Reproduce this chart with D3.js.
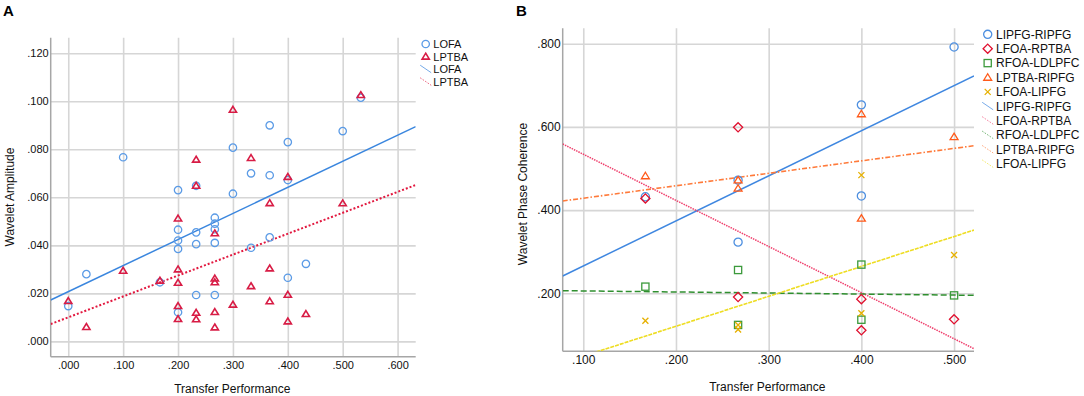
<!DOCTYPE html>
<html>
<head>
<meta charset="utf-8">
<script src="https://cdn.jsdelivr.net/npm/d3@7"></script>
<style>
  body { margin: 0; background: #fff; }
  svg { font-family: Arial, "Liberation Sans", sans-serif; }
</style>
</head>
<body>
<svg id="chart" width="1084" height="396"></svg>
<script>
// ---- panel A data ----
const xTicksA = [0, 0.1, 0.2, 0.3, 0.4, 0.5, 0.6];
const yTicksA = [0, 0.02, 0.04, 0.06, 0.08, 0.1, 0.12];

// [transfer performance, wavelet amplitude]
const lofaPts = [
  [0, 0.0147], [0.033, 0.028], [0.1, 0.0767], [0.167, 0.0246],
  [0.2, 0.063], [0.2, 0.0465], [0.2, 0.042], [0.2, 0.0385], [0.2, 0.0121],
  [0.233, 0.0648], [0.233, 0.0454], [0.233, 0.0405], [0.233, 0.0193],
  [0.267, 0.0515], [0.267, 0.049], [0.267, 0.0467], [0.267, 0.041], [0.267, 0.0193],
  [0.3, 0.0807], [0.3, 0.0615], [0.333, 0.070], [0.333, 0.039],
  [0.367, 0.090], [0.367, 0.0692], [0.367, 0.0433],
  [0.4, 0.083], [0.4, 0.0672], [0.4, 0.0265], [0.433, 0.0323],
  [0.5, 0.0876], [0.533, 0.1015]
];
const lptbaPts = [
  [0, 0.0168], [0.033, 0.006], [0.1, 0.0294], [0.167, 0.0253],
  [0.2, 0.0512], [0.2, 0.030], [0.2, 0.0244], [0.2, 0.0147], [0.2, 0.0093],
  [0.233, 0.0757], [0.233, 0.0648], [0.233, 0.0119], [0.233, 0.0092],
  [0.267, 0.045], [0.267, 0.0262], [0.267, 0.0246], [0.267, 0.0122], [0.267, 0.0058],
  [0.3, 0.0965], [0.3, 0.0153], [0.333, 0.0764], [0.333, 0.023],
  [0.367, 0.0576], [0.367, 0.0304], [0.367, 0.0167],
  [0.4, 0.0685], [0.4, 0.0194], [0.4, 0.0083], [0.433, 0.0114],
  [0.5, 0.0575], [0.533, 0.1026]
];
// fit lines: [intercept, slope]
const lofaFit = [0.0207, 0.1086];
const lptbaFit = [0.0100, 0.0871];

// ---- panel B data ----
const xTicksB = [0.1, 0.2, 0.3, 0.4, 0.5];
const yTicksB = [0.2, 0.4, 0.6, 0.8];

const lipfgRipfgPts = [[0.167, 0.432], [0.267, 0.472], [0.267, 0.323], [0.4, 0.653], [0.4, 0.434], [0.5, 0.792]];
const lfoaRptbaPts = [[0.167, 0.428], [0.267, 0.599], [0.267, 0.191], [0.4, 0.186], [0.4, 0.111], [0.5, 0.1375]];
const rfoaLdlpfcPts = [[0.167, 0.216], [0.267, 0.256], [0.267, 0.124], [0.4, 0.269], [0.4, 0.1365], [0.5, 0.195]];
const lptbaRipfgPts = [[0.167, 0.482], [0.267, 0.472], [0.267, 0.452], [0.4, 0.631], [0.4, 0.38], [0.5, 0.576]];
const lfoaLipfgPts = [[0.167, 0.134], [0.267, 0.124], [0.267, 0.113], [0.4, 0.484], [0.4, 0.152], [0.5, 0.292]];

const lipfgRipfgFit = [0.1573, 1.0836];
const lfoaRptbaFit = [0.6452, -1.109];
const rfoaLdlpfcFit = [0.2082, -0.025];
const lptbaRipfgFit = [0.3986, 0.2995];
const lfoaLipfgFit = [-0.023, 0.719];

const svg = d3.select("#chart");
const fmt = v => d3.format(".3f")(v).replace(/^0/, "");

// marker shapes, drawn around 0,0
function marker(g, shape, color, s) {
  if (shape === "circle") {
    g.append("circle").attr("r", 3.7 * s);
  } else if (shape === "triangle") {
    g.append("path").attr("d", `M0,${-3.4 * s}L${3.6 * s},${2.5 * s}L${-3.6 * s},${2.5 * s}Z`);
  } else if (shape === "diamond") {
    g.append("path").attr("d", "M0,-4.6L4.6,0L0,4.6L-4.6,0Z");
  } else if (shape === "square") {
    g.append("rect").attr("x", -3.6).attr("y", -3.6).attr("width", 7.2).attr("height", 7.2);
  } else if (shape === "x") {
    g.append("path").attr("d", "M-3,-3L3,3M-3,3L3,-3");
  }
  g.selectAll("*").attr("fill", "none").attr("stroke", color)
    .attr("stroke-width", shape === "triangle" && s < 1.05 ? 1.6 : 1.3);
}

function drawPanel(p) {
  const x = d3.scaleLinear().domain(p.xDomain).range([p.left, p.right]);
  const y = d3.scaleLinear().domain(p.yDomain).range([p.bottom, p.top]);
  const w = p.right - p.left, h = p.bottom - p.top;
  const g = svg.append("g");

  // grid + tick labels
  const yAxis = g.append("g").attr("transform", `translate(${p.left},0)`)
    .call(d3.axisLeft(y).tickValues(p.yTicks).tickSize(-w).tickPadding(2).tickFormat(fmt));
  const xAxis = g.append("g").attr("transform", `translate(0,${p.bottom})`)
    .call(d3.axisBottom(x).tickValues(p.xTicks).tickSize(-h).tickPadding(p.xPad).tickFormat(fmt));
  [xAxis, yAxis].forEach(a => {
    a.select(".domain").remove();
    a.selectAll(".tick line").attr("stroke", "#d6d6d6").attr("stroke-width", 1.6);
    a.selectAll(".tick text").attr("fill", "#111").style("font-size", p.fs + "px");
  });

  // axis lines (left and bottom only)
  g.append("line").attr("x1", p.left).attr("x2", p.left).attr("y1", p.top).attr("y2", p.bottom)
    .attr("stroke", "#a6a6a6").attr("stroke-width", 1.5);
  g.append("line").attr("x1", p.left).attr("x2", p.right).attr("y1", p.bottom).attr("y2", p.bottom)
    .attr("stroke", "#a6a6a6").attr("stroke-width", 1.5);

  // fit lines, clipped to the plot area
  const clipId = "clip" + p.id;
  svg.append("clipPath").attr("id", clipId).append("rect")
    .attr("x", p.left).attr("y", p.top).attr("width", w).attr("height", h);
  const lines = g.append("g").attr("clip-path", `url(#${clipId})`);
  const line = d3.line().x(d => x(d[0])).y(d => y(d[1]));
  p.series.forEach(s => {
    const ends = p.xDomain.map(v => [v, s.fit[0] + s.fit[1] * v]);
    lines.append("path").attr("d", line(ends)).attr("fill", "none")
      .attr("stroke", s.lineColor).attr("stroke-width", s.lw)
      .attr("stroke-dasharray", s.dash);
  });

  // points
  p.series.forEach(s => {
    g.append("g").selectAll("g").data(s.pts).join("g")
      .attr("transform", d => `translate(${x(d[0])},${y(d[1])})`)
      .each(function () { marker(d3.select(this), s.shape, s.color, p.ms); });
  });

  // axis titles
  g.append("text").attr("x", (p.left + p.right) / 2 + p.xTitleDx).attr("y", p.xTitleY)
    .attr("text-anchor", "middle").style("font-size", "12px").attr("fill", "#111").text(p.xTitle);
  g.append("text").attr("transform", `translate(${p.yTitleX},${p.yTitleCy}) rotate(-90)`)
    .attr("text-anchor", "middle").style("font-size", "12px").attr("fill", "#111").text(p.yTitle);

  // panel letter
  g.append("text").attr("x", p.letterX).attr("y", 16).style("font-size", "15px")
    .style("font-weight", "bold").text(p.letter);

  // legend: markers first, then fit lines
  const leg = g.append("g");
  const rows = p.series.map(s => ({ s, kind: "pt" })).concat(p.series.map(s => ({ s, kind: "ln" })));
  rows.forEach((r, i) => {
    const cy = p.legY + i * p.legStep;
    if (r.kind === "pt") {
      marker(leg.append("g").attr("transform", `translate(${p.legX},${cy})`), r.s.shape, r.s.color, p.ms);
    } else {
      leg.append("line").attr("x1", p.legX - 5.5).attr("y1", cy - 4).attr("x2", p.legX + 5.5).attr("y2", cy + 3.5)
        .attr("stroke", r.s.lineColor).attr("stroke-width", 1).attr("stroke-opacity", 0.7)
        .attr("stroke-dasharray", r.s.dash === "none" ? null : "1.5,1.5");
    }
    leg.append("text").attr("x", p.legX + p.legTextDx).attr("y", cy).attr("dy", "0.36em")
      .style("font-size", p.legFs + "px").attr("fill", "#111").text(r.s.name);
  });
}

drawPanel({
  id: "A", letter: "A", letterX: 3,
  left: 50.7, right: 415.7, top: 37.7, bottom: 356.7,
  xDomain: [-0.032, 0.633], yDomain: [-0.0064, 0.1265],
  xTicks: xTicksA, yTicks: yTicksA, fs: 11, xPad: 5, ms: 1,
  xTitle: "Transfer Performance", xTitleY: 393, xTitleDx: -0.9,
  yTitle: "Wavelet Amplitude", yTitleX: 13.5, yTitleCy: 197,
  legX: 425.7, legTextDx: 7.6, legY: 44, legStep: 12.6, legFs: 11,
  series: [
    { name: "LOFA", pts: lofaPts, fit: lofaFit, shape: "circle", color: "#5b9be6", lineColor: "#3a86de", lw: 1.5, dash: "none" },
    { name: "LPTBA", pts: lptbaPts, fit: lptbaFit, shape: "triangle", color: "#d81c45", lineColor: "#e2183f", lw: 2, dash: "2,2" }
  ]
});

drawPanel({
  id: "B", letter: "B", letterX: 516,
  left: 562.7, right: 974, top: 28.3, bottom: 351.3,
  xDomain: [0.0778, 0.5215], yDomain: [0.0606, 0.837],
  xTicks: xTicksB, yTicks: yTicksB, fs: 12, xPad: 4, ms: 1.1,
  xTitle: "Transfer Performance", xTitleY: 391, xTitleDx: -1,
  yTitle: "Wavelet Phase Coherence", yTitleX: 527, yTitleCy: 194,
  legX: 987.7, legTextDx: 8.3, legY: 34.3, legStep: 14.4, legFs: 12,
  series: [
    { name: "LIPFG-RIPFG", pts: lipfgRipfgPts, fit: lipfgRipfgFit, shape: "circle", color: "#4d8fe0", lineColor: "#3f87e0", lw: 1.5, dash: "none" },
    { name: "LFOA-RPTBA", pts: lfoaRptbaPts, fit: lfoaRptbaFit, shape: "diamond", color: "#e0102f", lineColor: "#ef3f6c", lw: 1.5, dash: "1.5,1" },
    { name: "RFOA-LDLPFC", pts: rfoaLdlpfcPts, fit: rfoaLdlpfcFit, shape: "square", color: "#3c9a3c", lineColor: "#2f8f2f", lw: 1.5, dash: "6,3" },
    { name: "LPTBA-RIPFG", pts: lptbaRipfgPts, fit: lptbaRipfgFit, shape: "triangle", color: "#ff5a1a", lineColor: "#ff7a3a", lw: 1.6, dash: "5,2,1.5,2" },
    { name: "LFOA-LIPFG", pts: lfoaLipfgPts, fit: lfoaLipfgFit, shape: "x", color: "#e6b000", lineColor: "#eedd22", lw: 1.6, dash: "4,1" }
  ]
});
</script>
</body>
</html>
